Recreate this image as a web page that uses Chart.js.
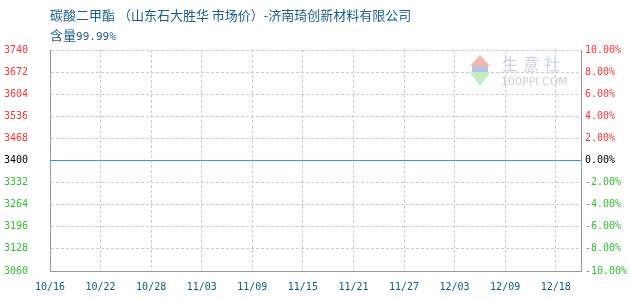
<!DOCTYPE html>
<html><head><meta charset="utf-8">
<script src="https://cdn.jsdelivr.net/npm/chart.js@4"></script>
<style>
body{margin:0;background:#fff;}
#wrap{position:relative;width:630px;height:300px;overflow:hidden;}
canvas{position:absolute;left:0;top:0;}
.t{position:absolute;left:50px;font-size:13px;font-family:"Noto Sans CJK SC","Noto Sans",sans-serif;color:#1b5c8a;white-space:nowrap;line-height:15px;}
.t .n{font-family:"DejaVu Sans Mono",monospace;font-size:11px;}
.wm1{position:absolute;left:502px;top:54px;font:16px "Noto Sans CJK SC";color:#c9d3e6;letter-spacing:5px;line-height:18px;}
.wm2{position:absolute;left:501px;top:76px;font:11px "DejaVu Sans",sans-serif;color:#cfcfcf;line-height:12px;}
.tri-up{position:absolute;left:470px;top:55px;width:0;height:0;border-left:10px solid transparent;border-right:10px solid transparent;border-bottom:11px solid #f4b6b6;}
.tri-dn{position:absolute;left:470px;top:72px;width:0;height:0;border-left:10px solid transparent;border-right:10px solid transparent;border-top:14px solid #c4ecc4;}
.band{position:absolute;left:472px;top:66px;width:16px;height:6px;background:#b8c2d6;}
</style></head><body>
<div id="wrap">
<canvas id="c" width="630" height="300"></canvas>
<div class="tri-up"></div><div class="band"></div><div class="tri-dn"></div>
<div class="wm1">生意社</div>
<div class="wm2">100PPI.COM</div>
<div class="t" style="top:7px">碳酸二甲酯 （山东石大胜华 市场价）-济南琦创新材料有限公司</div>
<div class="t" style="top:27px">含量<span class="n">99.99%</span></div>
</div>
<script>
// ---- data ----
const dates = ['10/16','10/22','10/28','11/03','11/09','11/15','11/21','11/27','12/03','12/09','12/18'];
const prices = [3400,3400,3400,3400,3400,3400,3400,3400,3400,3400,3400];
const basePrice = 3400;
const leftTicks = [3060,3128,3196,3264,3332,3400,3468,3536,3604,3672,3740];
const rightTicks = [-10,-8,-6,-4,-2,0,2,4,6,8,10];

const xMax = dates.length - 0.5;
const points = prices.map((v,i)=>({x:i,y:v}));
points.push({x:xMax, y:prices[prices.length-1]});

const mono = {family:'"DejaVu Sans Mono", monospace', size:10};
const tickColor = v => v > 0 ? '#ff3333' : (v < 0 ? '#33bb33' : '#000000');

new Chart(document.getElementById('c'), {
  type:'line',
  data:{datasets:[{data:points, borderColor:'#3399dd', borderWidth:1, pointRadius:0, tension:0, yAxisID:'y'}]},
  options:{
    responsive:false, animation:false,
    layout:{padding:{top:50,bottom:0,left:0,right:0}},
    plugins:{legend:{display:false}, tooltip:{enabled:false}},
    scales:{
      x:{type:'linear', min:0, max:xMax,
        afterBuildTicks:s=>{s.ticks = dates.map((d,i)=>({value:i})).concat([{value:xMax}]);},
        afterFit:s=>{s.height=29;},
        ticks:{autoSkip:false, maxRotation:0, padding:10, color:'#0b5a8a', font:mono,
          callback:v => Number.isInteger(v) && dates[v] ? dates[v] : ''},
        grid:{color:'#cccccc', drawTicks:false},
        border:{color:'#999999', width:1, dash:[3,2]}
      },
      y:{position:'left', min:leftTicks[0], max:leftTicks[leftTicks.length-1],
        afterBuildTicks:s=>{s.ticks = leftTicks.map(v=>({value:v}));},
        afterFit:s=>{s.width=50;},
        ticks:{padding:22, font:mono, color:c=>tickColor(c.tick.value-basePrice), callback:v=>String(v)},
        grid:{color:'#cccccc', drawTicks:false},
        border:{color:'#999999', width:1, dash:[3,2]}
      },
      y1:{position:'right', min:rightTicks[0], max:rightTicks[rightTicks.length-1],
        afterBuildTicks:s=>{s.ticks = rightTicks.map(v=>({value:v}));},
        afterFit:s=>{s.width=49;},
        ticks:{padding:4, font:mono, color:c=>tickColor(c.tick.value), callback:v=>v.toFixed(2)+'%'},
        grid:{drawOnChartArea:false, drawTicks:false},
        border:{color:'#999999', width:1}
      }
    }
  }
});
</script>
</body></html>
